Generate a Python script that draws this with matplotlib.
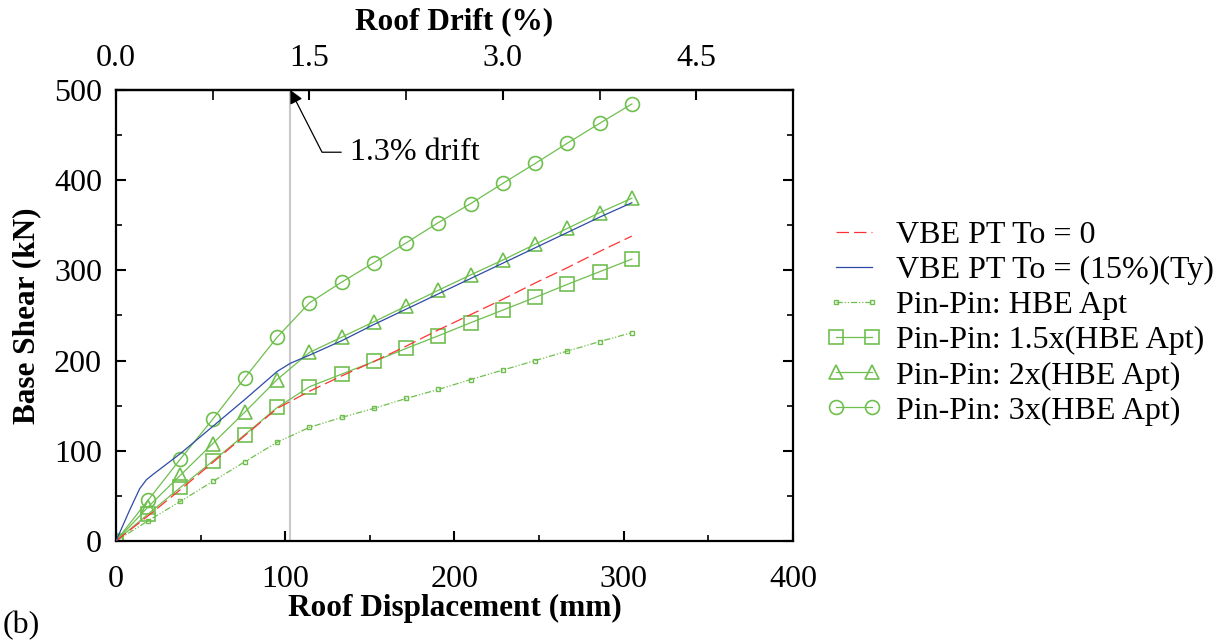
import numpy as np
import matplotlib
matplotlib.use("Agg")
import matplotlib.pyplot as plt
from matplotlib.ticker import MultipleLocator, FixedLocator, FormatStrFormatter

# Roof displacement at 0.25 % drift increments (mm)
roof_disp = [0.0, 19.05, 38.1, 57.15, 76.2, 95.25, 114.3, 133.35, 152.4, 171.45,
             190.5, 209.55, 228.6, 247.65, 266.7, 285.75, 304.8]

# Base shear (kN)
vbe_to0 = [0, 28, 57, 87, 117, 147, 166, 183, 199, 216, 234, 251, 268, 286, 303, 321, 338]
hbe_apt = [0, 22.5, 44, 66, 88, 109.5, 126, 137, 147, 158, 168, 179, 189.5, 200, 210.5, 221, 231]
hbe_1p5 = [0, 30, 59.5, 88.5, 118, 148, 171, 185, 199, 213.5, 227.5, 242, 256, 270, 284.5, 298.5, 312.5]
hbe_2x = [0, 38, 73, 108, 143, 179, 209, 226, 243, 260.5, 278, 295, 311.5, 329, 346.5, 364, 380]
hbe_3x = [0, 45.5, 91, 135, 181, 226, 264, 287, 308.5, 330.5, 353, 374, 396.5, 418.5, 441, 463, 484.5]

# Post-tensioned VBE curve has its own sampling near the origin
vbe_pt_disp = [0.0, 8.0, 14.0, 18.0, 22.0, 38.1, 57.15, 76.2, 95.25, 103.0, 114.3, 133.35,
               152.4, 171.45, 190.5, 209.55, 228.6, 247.65, 266.7, 285.75, 304.8]
vbe_pt15 = [0, 34, 58, 68, 74, 97, 127, 157, 188, 197, 206, 222, 240, 257, 274, 291,
            308, 325, 342, 359, 375]

series_labels = ["VBE PT To = 0", "VBE PT To = (15%)(Ty)", "Pin-Pin: HBE Apt",
                 "Pin-Pin: 1.5x(HBE Apt)", "Pin-Pin: 2x(HBE Apt)", "Pin-Pin: 3x(HBE Apt)"]

drift_ticks = [0.0, 1.5, 3.0, 4.5]
drift_minor_ticks = [0.75, 2.25, 3.75, 5.25]

building_height = 7620.0   # mm, converts roof displacement to drift
drift_mark_disp = 103.0    # mm, location of the 1.3 % drift reference line

plt.rcParams["font.family"] = ["Liberation Serif", "DejaVu Serif"]

green = "#6fbf4f"
red = "#ff3333"
blue = "#2e4aa8"
fs = 23
fs_lab = 22.5

fig = plt.figure(figsize=(12.25, 6.4), dpi=100)
ax = fig.add_axes([0.0947, 0.1547, 0.5526, 0.7047])

ax.axvline(drift_mark_disp, color="#c8c8c8", lw=1.5, zorder=1)

ax.plot(roof_disp, vbe_to0, color=red, lw=0.9, dashes=(10, 4), label=series_labels[0], zorder=3)
ax.plot(vbe_pt_disp, vbe_pt15, color=blue, lw=0.9, label=series_labels[1], zorder=3)
ax.plot(roof_disp, hbe_apt, color=green, lw=0.9, dashes=(5, 1.5, 1, 1.5, 1, 1.5),
        marker="s", ms=3.2, mfc="none", mec=green, mew=1.0, label=series_labels[2], zorder=2)
ax.plot(roof_disp, hbe_1p5, color=green, lw=0.9, marker="s", ms=10, mfc="none",
        mec=green, mew=1.2, label=series_labels[3], zorder=2)
ax.plot(roof_disp, hbe_2x, color=green, lw=0.9, marker="^", ms=10, mfc="none",
        mec=green, mew=1.2, label=series_labels[4], zorder=2)
ax.plot(roof_disp, hbe_3x, color=green, lw=0.9, marker="o", ms=10, mfc="none",
        mec=green, mew=1.2, label=series_labels[5], zorder=2)

ax.set_xlim(0, 400)
ax.set_ylim(0, 500)
ax.xaxis.set_major_locator(MultipleLocator(100))
ax.xaxis.set_minor_locator(MultipleLocator(50))
ax.yaxis.set_major_locator(MultipleLocator(100))
ax.yaxis.set_minor_locator(MultipleLocator(50))

for s in ax.spines.values():
    s.set_linewidth(1.6)

ax.tick_params(which="both", direction="in", top=False, right=True, labelsize=fs)
ax.tick_params(which="major", length=7, width=1.5)
ax.tick_params(which="minor", length=4, width=1.2)
ax.tick_params(axis="y", pad=10)
ax.tick_params(axis="x", pad=17)

ax.set_xlabel("Roof Displacement (mm)", fontsize=fs_lab, fontweight="bold", labelpad=0)
ax.set_ylabel("Base Shear (kN)", fontsize=fs_lab, fontweight="bold", labelpad=9)

# Drift scale along the top
secax = ax.secondary_xaxis("top", functions=(lambda d: d / building_height * 100.0,
                                             lambda p: p * building_height / 100.0))
secax.xaxis.set_major_locator(FixedLocator(drift_ticks))
secax.xaxis.set_minor_locator(FixedLocator(drift_minor_ticks))
secax.xaxis.set_major_formatter(FormatStrFormatter("%.1f"))
secax.tick_params(which="both", direction="in", labelsize=fs, pad=12)
secax.tick_params(which="major", length=7, width=1.5)
secax.tick_params(which="minor", length=7, width=1.2)
secax.spines["top"].set_linewidth(1.6)
secax.set_xlabel("Roof Drift (%)", fontsize=fs_lab, fontweight="bold", labelpad=11)

ax.annotate("1.3% drift", xy=(drift_mark_disp, 500), xytext=(138, 431),
            fontsize=fs, va="center", ha="left",
            arrowprops=dict(arrowstyle="-|>", color="black", lw=0.9,
                            mutation_scale=20, shrinkA=4, shrinkB=0,
                            connectionstyle="angle,angleA=0,angleB=-63,rad=0",
                            relpos=(0, 0.5)))

ax.legend(loc="center left", bbox_to_anchor=(1.03, 0.483), frameon=False,
          fontsize=fs, handlelength=1.75, handletextpad=0.45, labelspacing=0.18,
          numpoints=2, borderaxespad=0)

fig.text(0.002, 0.022, "(b)", fontsize=fs, ha="left", va="center")

fig.savefig("out.png", dpi=100)
